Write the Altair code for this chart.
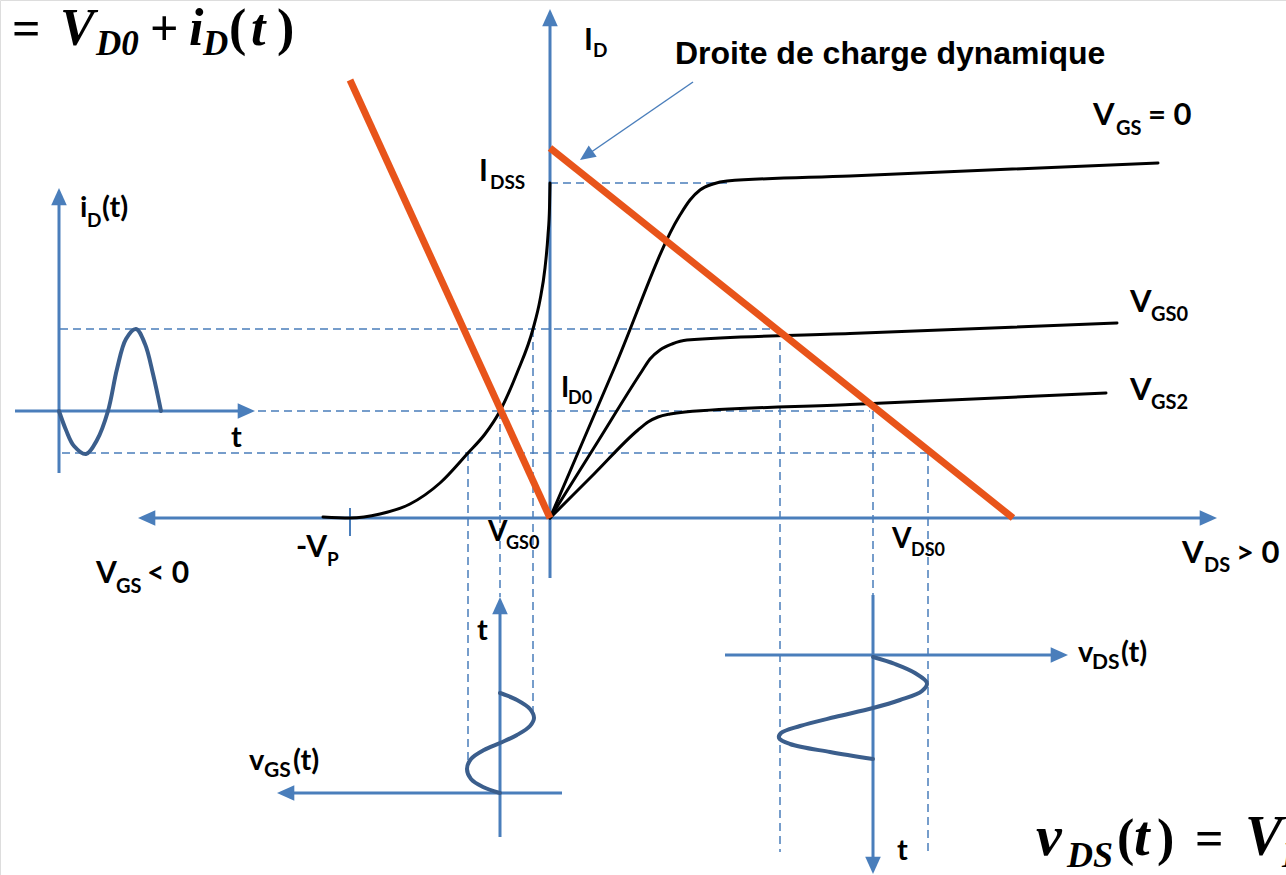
import altair as alt
import pandas as pd

# Diagram units: pixels measured from the operating-diagram origin
# (V_DS to the right, I_D upwards, V_GS to the left).
X_DOMAIN = [-550, 736]
Y_DOMAIN = [-357, 518]

BLUE = "#4a7ebb"
WAVE = "#3b5e8c"
ORANGE = "#e8541a"
BLACK = "#000000"

# ---- transfer characteristic I_D(V_GS) ----
transfer_x = [-227, -200, -170, -140, -110, -82, -65, -50, -33, -17, -10, -5, -2, -0.5, 0]
transfer_y = [1, 0, 4, 14, 35, 65, 84, 107, 145, 189, 218, 250, 283, 310, 335]

# ---- output characteristics I_D(V_DS) ----
vgs_zero_x = [0, 65, 130, 140, 150, 163, 177, 300, 608]
vgs_zero_y = [0, 151.5, 303, 318, 328, 334, 337, 342.1, 355]
vgs_q_x = [0, 46, 92, 100, 110, 122, 137, 300, 567]
vgs_q_y = [0, 73.5, 147, 159, 168, 174, 178, 184.4, 195]
vgs_two_x = [0, 44, 88, 98, 108, 120, 135, 300, 556]
vgs_two_y = [0, 44, 88, 96, 101, 104, 106, 113.4, 125]

# ---- signals ----
id_wave_x = [-491, -484, -476, -464, -453, -442, -433, -424, -414, -405, -397, -389]
id_wave_y = [107, 88, 72, 64, 78, 107, 149, 179, 189, 174, 144, 107]
vgs_wave_x = [-50, -67, -79, -83, -79, -66, -50, -33, -20, -16, -20, -33, -50]
vgs_wave_y = [-275, -269, -261, -251, -241, -232, -225, -217, -208, -200, -191, -182, -175]
vds_wave_x = [323, 345, 365, 377, 372, 350, 323, 285, 250, 231, 229, 240, 280, 323]
vds_wave_y = [-139, -146, -155, -165, -173, -182, -190, -199, -208, -215, -220, -226, -234, -241]

# ---- straight segments: (x1, y1, x2, y2) ----
axis_segments = [
    (0, -60, 0, 500),          # I_D
    (-404, 0, 659, 0),         # V_GS <- | -> V_DS
    (-491, 45, -491, 322),     # i_D(t) axis
    (-535, 107, -303, 107),    # its time axis
    (-50, -319, -50, -87),     # time axis of v_GS(t)
    (12, -275, -265, -275),    # v_GS(t) axis
    (175, -137, 510, -137),    # v_DS(t) axis
    (323, -77, 323, -348),     # time axis of v_DS(t)
]
tick_segments = [(-200, 10, -200, -18)]  # -V_P
guide_segments = [
    (0, 335, 180, 335),
    (-490, 189, 230, 189),
    (-292, 107, 320, 107),
    (-488, 65, 380, 65),
    (-82, 65, -82, -250),
    (-50, 107, -50, -79),
    (-17, 189, -17, -200),
    (230, 189, 230, -334),
    (323, 107, 323, -77),
    (378, 65, 378, -334),
]
load_segments = [
    (0, 370, 463, 0),      # droite de charge dynamique
    (-200, 438, 0, 0),     # same line carried over to V_GS
]
pointer_segments = [(143, 436, 37, 363)]

# arrow tips: (x, y, angle clockwise from "up")
axis_arrows = [
    (0, 509, 0), (667, 0, 90), (-412, 0, 270),
    (-491, 330, 0), (-295, 107, 90),
    (-50, -79, 0), (-273, -275, 270),
    (518, -137, 90), (323, -356, 180),
]
pointer_arrows = [(30, 358, 235)]

# ---- labels: (text, x, baseline y, size) ----
sans_labels = [
    ("I", 34, 468, 30), ("D", 43, 461, 19),
    ("I", -71, 337, 30), ("DSS", -60, 329, 19),
    ("V", 543, 393, 31), ("GS", 566, 383, 20), ("= 0", 598, 393, 31),
    ("i", -470, 301, 29), ("D", -463, 291, 19), ("(t)", -448, 301, 29),
    ("V", 580, 206, 31), ("GS0", 601, 197, 20),
    ("I", 11, 121, 28), ("D0", 18, 114, 18),
    ("V", 580, 118, 31), ("GS2", 601, 109, 20),
    ("t", -319, 71, 29),
    ("-V", -254, -39, 30), ("P", -223, -48, 19),
    ("V", -62, -23, 28), ("GS0", -44, -31, 18),
    ("V", -454, -65, 30), ("GS", -434, -75, 20), ("< 0", -403, -65, 30),
    ("V", 342, -30, 28), ("DS0", 361, -38, 18),
    ("V", 632, -45, 31), ("DS", 654, -54, 20), ("> 0", 686, -45, 31),
    ("t", -73, -122, 29),
    ("v", -301, -252, 29), ("GS", -286, -259, 21), ("(t)", -257, -252, 29),
    ("v", 528, -144, 29), ("DS", 542, -151, 21), ("(t)", 571, -144, 29),
    ("t", 347, -342, 29),
]
title_labels = [("Droite de charge dynamique", 125, 454, 32)]
math_upright = [
    ("=", -538, 473, 50), ("+", -400, 473, 50), ("(", -321, 473, 52), (")", -273, 473, 52),
    ("(", 567, -337, 52), (")", 607, -337, 52), ("=", 645, -337, 50),
]
math_italic = [
    ("V", -490, 473, 52), ("D0", -454, 463, 35), ("i", -361, 473, 52),
    ("D", -347, 463, 35), ("t", -299, 473, 52),
    ("v", 486, -337, 58), ("DS", 517, -349, 36), ("t", 584, -337, 56),
    ("V", 695, -337, 56), ("D", 732, -349, 36),
]

xs = alt.Scale(domain=X_DOMAIN, nice=False, zero=False)
ys = alt.Scale(domain=Y_DOMAIN, nice=False, zero=False)
X = alt.X("x:Q", scale=xs, axis=None)
Y = alt.Y("y:Q", scale=ys, axis=None)


def curves(pairs):
    rows = []
    for name, cx, cy in pairs:
        for i, (a, b) in enumerate(zip(cx, cy)):
            rows.append({"id": name, "i": i, "x": a, "y": b})
    return pd.DataFrame(rows)


def segs(items):
    return pd.DataFrame(items, columns=["x", "y", "x2", "y2"])


def tips(items):
    return pd.DataFrame(items, columns=["x", "y", "a"])


def labels(items):
    return pd.DataFrame(items, columns=["t", "x", "y", "s"])


def rule_layer(items, color, width, dash=None):
    kw = dict(color=color, strokeWidth=width)
    if dash:
        kw["strokeDash"] = dash
    return alt.Chart(segs(items)).mark_rule(**kw).encode(
        x=X, y=Y, x2=alt.X2("x2"), y2=alt.Y2("y2"))


ARROW = "M0,0L0.9,2L-0.9,2Z"


def arrow_layer(items, color, size):
    return alt.Chart(tips(items)).mark_point(
        shape=ARROW, filled=True, size=size, color=color, opacity=1, strokeWidth=0
    ).encode(x=X, y=Y, angle=alt.Angle("a:Q", scale=None))


def text_layer(items, font, italic=False, weight="bold"):
    kw = dict(font=font, fontWeight=weight, align="left", baseline="alphabetic", color=BLACK)
    if italic:
        kw["fontStyle"] = "italic"
    return alt.Chart(labels(items)).mark_text(**kw).encode(
        x=X, y=Y, text="t:N", size=alt.Size("s:Q", scale=None))


characteristics = alt.Chart(curves([
    ("transfer", transfer_x, transfer_y),
    ("vgs0", vgs_zero_x, vgs_zero_y),
    ("vgsq", vgs_q_x, vgs_q_y),
    ("vgs2", vgs_two_x, vgs_two_y),
])).mark_line(color=BLACK, strokeWidth=3, interpolate="monotone", strokeCap="round").encode(
    x=X, y=Y, detail="id:N", order="i:Q")

signals = alt.Chart(curves([
    ("id", id_wave_x, id_wave_y),
    ("vgs", vgs_wave_x, vgs_wave_y),
    ("vds", vds_wave_x, vds_wave_y),
])).mark_line(color=WAVE, strokeWidth=4, interpolate="catmull-rom", strokeCap="round").encode(
    x=X, y=Y, detail="id:N", order="i:Q")

chart = alt.layer(
    rule_layer(guide_segments, BLUE, 1.5, [8, 5]),
    rule_layer(axis_segments, BLUE, 3),
    rule_layer(tick_segments, BLUE, 2),
    arrow_layer(axis_arrows, BLUE, 300),
    signals,
    characteristics,
    rule_layer(load_segments, ORANGE, 7),
    rule_layer(pointer_segments, BLUE, 1.5),
    arrow_layer(pointer_arrows, BLUE, 240),
    text_layer(sans_labels, "Lato"),
    text_layer(title_labels, "Liberation Sans"),
    text_layer(math_upright, "Liberation Serif"),
    text_layer(math_italic, "Liberation Serif", italic=True),
).properties(
    width=1286, height=875, padding=0, autosize=alt.AutoSizeParams(type="none")
).configure_view(strokeWidth=0).configure(background="white")

chart.save("out.html", embed_options={"renderer": "svg", "actions": False})
